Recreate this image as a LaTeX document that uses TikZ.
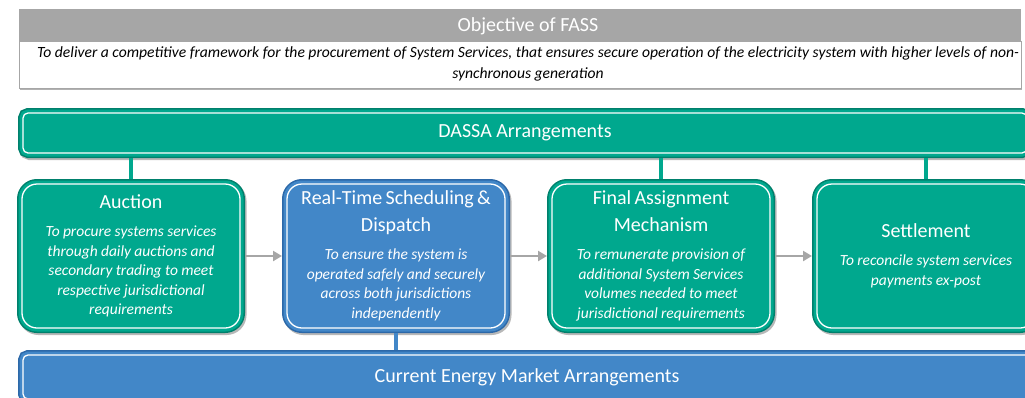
\documentclass[tikz,border=0pt]{standalone}
\usepackage{fontspec}
\setmainfont{Carlito}
\usetikzlibrary{arrows.meta, shadows}

\definecolor{fassteal}{RGB}{0,168,142}
\definecolor{fasstealdark}{RGB}{0,128,108}
\definecolor{fassblue}{RGB}{66,135,200}
\definecolor{fassbluedark}{RGB}{44,104,168}
\definecolor{fassgrey}{RGB}{166,166,166}

\newcommand{\headfont}{\fontsize{20}{27}\selectfont}
\newcommand{\descfont}{\fontsize{15.5}{19.5}\selectfont\itshape}
\newcommand{\objfont}{\fontsize{15.6}{21}\selectfont\itshape}

\begin{document}
\begin{tikzpicture}[x=1pt, y=-1pt,
  panel/.style={fill=#1, draw=white, line width=1.3pt, text=white, outer sep=5pt,
    drop shadow={shadow xshift=1.5pt, shadow yshift=-2pt, opacity=1,
      fill=black!28, draw=black!28, line width=10pt},
    preaction={draw=#1dark, line width=10pt},
    preaction={draw=#1, line width=7pt}},
  stagebox/.style={panel=#1, rounded corners=15pt, minimum width=218pt,
    minimum height=144pt, inner sep=0pt, text width=214pt, align=center},
  barbox/.style={panel=#1, rounded corners=5pt, font=\headfont, inner sep=0pt},
  link/.style={draw=#1, line width=4pt},
  flow/.style={draw=fassgrey, line width=2.8pt, -{Triangle[length=9pt, width=10pt]}}]
  \useasboundingbox (0,0) rectangle (1025,397);
  \clip (0,0) rectangle (1025,397);

  % objective
  \node[fill=fassgrey, minimum width=1002pt, minimum height=32pt, inner sep=0pt] (objhead) at (520,25) {};
  \node[fill=white, draw=black!35, line width=0.6pt, minimum width=1002pt, minimum height=47pt, inner sep=0pt,
    drop shadow={shadow xshift=1pt, shadow yshift=-2pt, opacity=1, fill=black!30}] (objdesc) at (520,64.5) {};
  \node[text=white, font=\headfont] (objtitle) at (528,26) {Objective of FASS};
  \node[font=\objfont, align=center] (objtext) at (528,64)
    {To deliver a competitive framework for the procurement of System Services, that ensures secure operation of the electricity system with higher levels of non-\\synchronous generation};

  % arrangements
  \node[barbox=fassteal, minimum width=1004pt, minimum height=40pt] (dassa) at (525,133) {DASSA Arrangements};
  \node[barbox=fassblue, minimum width=1008pt, minimum height=44pt] (cema) at (527,377) {Current Energy Market Arrangements};

  % stages
  \node[stagebox=fassteal] (auction) at (131,256)
    {{\headfont Auction\par}\vspace{8.5pt}%
     {\descfont To procure systems services\\through daily auctions and\\secondary trading to meet\\respective jurisdictional\\requirements\par}};
  \node[stagebox=fassblue] (rtsd) at (396,256)
    {{\headfont Real-Time Scheduling \&\\Dispatch\par}\vspace{8.5pt}%
     {\descfont To ensure the system is\\operated safely and securely\\across both jurisdictions\\independently\par}};
  \node[stagebox=fassteal] (fam) at (661,256)
    {{\headfont Final Assignment\\Mechanism\par}\vspace{8.5pt}%
     {\descfont To remunerate provision of\\additional System Services\\volumes needed to meet\\jurisdictional requirements\par}};
  \node[stagebox=fassteal] (settle) at (926,256)
    {{\headfont Settlement\par}\vspace{8.5pt}%
     {\descfont To reconcile system services\\payments ex-post\par}};

  % links
  \draw[link=fassteal] (auction.north) -- (auction.north |- dassa.south);
  \draw[link=fassteal] (fam.north) -- (fam.north |- dassa.south);
  \draw[link=fassteal] (settle.north) -- (settle.north |- dassa.south);
  \draw[link=fassblue] (rtsd.south) -- (rtsd.south |- cema.north);
  \draw[flow] (auction) -- (rtsd);
  \draw[flow] (rtsd) -- (fam);
  \draw[flow] (fam) -- (settle);
\end{tikzpicture}
\end{document}
